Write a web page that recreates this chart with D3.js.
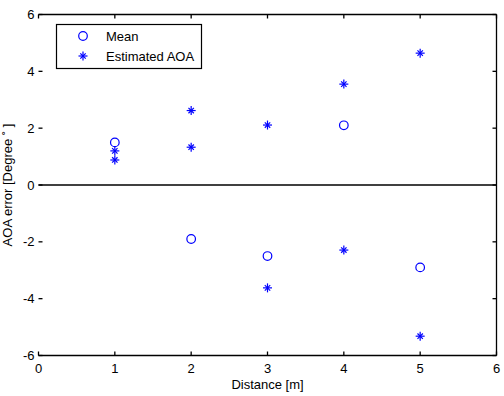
<!DOCTYPE html>
<html>
<head>
<meta charset="utf-8">
<script src="https://cdn.jsdelivr.net/npm/d3@7.9.0/dist/d3.min.js"></script>
<style>
  body { margin: 0; background: #fff; }
  text { font-family: "Liberation Sans", Arial, sans-serif; fill: #000; }
</style>
</head>
<body>
<svg id="chart" width="504" height="396"></svg>
<script>
const xTicks = [0, 1, 2, 3, 4, 5, 6];
const yTicks = [-6, -4, -2, 0, 2, 4, 6];

// mean error per distance
const meanX = [1, 2, 3, 4, 5];
const meanY = [1.5, -1.9, -2.5, 2.1, -2.9];

// individual AOA estimates
const estX = [1, 1, 2, 2, 3, 3, 4, 4, 5, 5];
const estY = [1.2, 0.88, 2.62, 1.33, 2.11, -3.62, 3.55, -2.29, 4.64, -5.32];

const legendLabels = ["Mean", "Estimated AOA"];

const blue = "#0000ff";
const svg = d3.select("#chart");
const margin = { left: 38.5, right: 7.5, top: 14.5, bottom: 40.5 };
const w = 504, h = 396;

const x = d3.scaleLinear().domain([0, 6]).range([margin.left, w - margin.right]);
const y = d3.scaleLinear().domain([-6, 6]).range([h - margin.bottom, margin.top]);

const frame = svg.append("g").attr("stroke", "#000").attr("stroke-width", 1.3).attr("fill", "none");
// top, bottom, right edges
frame.append("line").attr("x1", x(0)).attr("x2", x(6)).attr("y1", y(6)).attr("y2", y(6));
frame.append("line").attr("x1", x(0)).attr("x2", x(6)).attr("y1", y(-6)).attr("y2", y(-6));
frame.append("line").attr("x1", x(6)).attr("x2", x(6)).attr("y1", y(6)).attr("y2", y(-6));
// zero line
frame.append("line").attr("x1", x(0)).attr("x2", x(6)).attr("y1", y(0)).attr("y2", y(0));

// ticks pointing inward
const tickLen = 4;
xTicks.forEach(t => {
  frame.append("line").attr("x1", x(t)).attr("x2", x(t)).attr("y1", y(-6)).attr("y2", y(-6) - tickLen);
  frame.append("line").attr("x1", x(t)).attr("x2", x(t)).attr("y1", y(6)).attr("y2", y(6) + tickLen);
});
yTicks.forEach(t => {
  frame.append("line").attr("x1", x(0)).attr("x2", x(0) + tickLen).attr("y1", y(t)).attr("y2", y(t));
  frame.append("line").attr("x1", x(6)).attr("x2", x(6) - tickLen).attr("y1", y(t)).attr("y2", y(t));
});

svg.append("g").selectAll("text").data(xTicks).join("text")
  .attr("x", d => x(d)).attr("y", y(-6) + 17)
  .attr("text-anchor", "middle").attr("font-size", 13)
  .text(d => d);

svg.append("g").selectAll("text").data(yTicks).join("text")
  .attr("x", x(0) - 4).attr("y", d => y(d) + 4.5)
  .attr("text-anchor", "end").attr("font-size", 13)
  .text(d => d);

svg.append("text").attr("x", x(3)).attr("y", 389)
  .attr("text-anchor", "middle").attr("font-size", 13)
  .text("Distance [m]");

svg.append("text")
  .attr("transform", `translate(12,${y(0)}) rotate(-90)`)
  .attr("text-anchor", "middle").attr("font-size", 13)
  .text("AOA error [Degree ˚ ]");

function star(g, cx, cy, r) {
  const s = g.append("g").attr("stroke", blue).attr("stroke-width", 1.2);
  s.append("line").attr("x1", cx - r).attr("x2", cx + r).attr("y1", cy).attr("y2", cy);
  s.append("line").attr("x1", cx).attr("x2", cx).attr("y1", cy - r).attr("y2", cy + r);
  const d = r * 0.6;
  s.append("line").attr("x1", cx - d).attr("x2", cx + d).attr("y1", cy - d).attr("y2", cy + d);
  s.append("line").attr("x1", cx - d).attr("x2", cx + d).attr("y1", cy + d).attr("y2", cy - d);
}

const marks = svg.append("g");
meanX.forEach((v, i) => {
  marks.append("circle").attr("cx", x(v)).attr("cy", y(meanY[i])).attr("r", 4.3)
    .attr("fill", "none").attr("stroke", blue).attr("stroke-width", 1.2);
});
estX.forEach((v, i) => star(marks, x(v), y(estY[i]), 4.5));

// legend
const lg = svg.append("g");
lg.append("rect").attr("x", 56.5).attr("y", 24.5).attr("width", 145).attr("height", 44)
  .attr("fill", "#fff").attr("stroke", "#000").attr("stroke-width", 1.2);
lg.append("circle").attr("cx", 83).attr("cy", 36).attr("r", 4.3)
  .attr("fill", "none").attr("stroke", blue).attr("stroke-width", 1.2);
star(lg, 83, 56, 4.5);
legendLabels.forEach((l, i) => {
  lg.append("text").attr("x", 106).attr("y", 41 + i * 20).attr("font-size", 13).text(l);
});
</script>
</body>
</html>
